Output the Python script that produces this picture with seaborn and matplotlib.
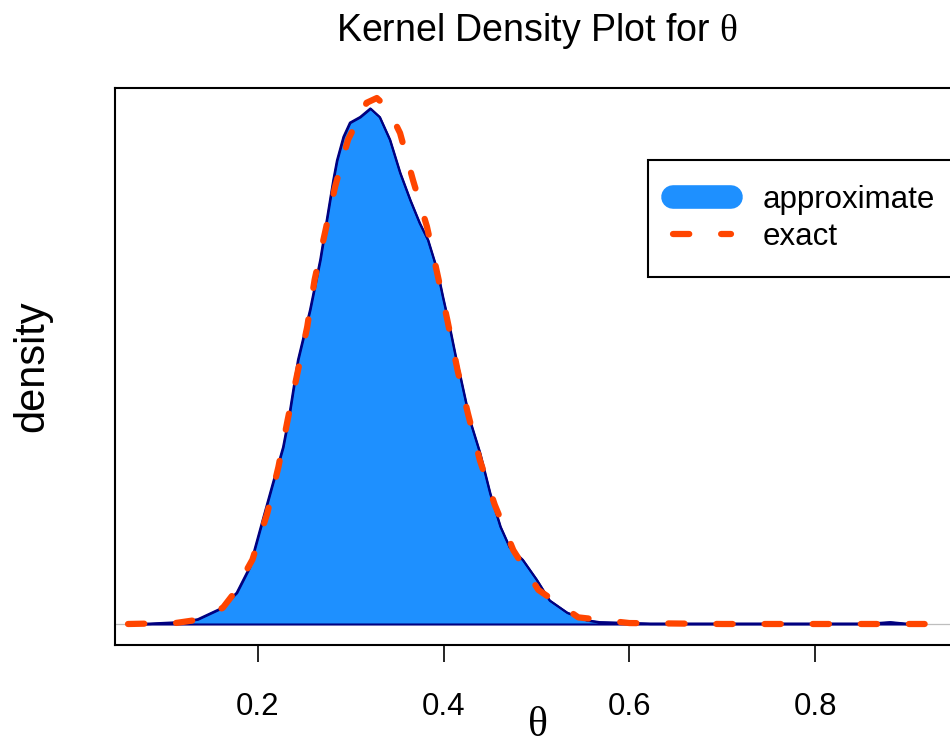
import matplotlib
matplotlib.use("Agg")
import matplotlib.pyplot as plt
from matplotlib.lines import Line2D
import seaborn as sns
import pandas as pd

# ---- data ----
theta_approx = [0.060, 0.084, 0.116, 0.135, 0.159, 0.177, 0.191, 0.205, 0.216, 0.227,
                0.234, 0.243, 0.256, 0.267, 0.274, 0.281, 0.285, 0.292, 0.299, 0.310,
                0.321, 0.331, 0.342, 0.353, 0.364, 0.374, 0.383, 0.393, 0.399, 0.407,
                0.413, 0.418, 0.428, 0.439, 0.450, 0.461, 0.471, 0.485, 0.500, 0.514,
                0.533, 0.554, 0.568, 0.622, 0.730, 0.859, 0.881, 0.897, 0.918]
dens_approx = [0.000, 0.005, 0.020, 0.050, 0.160, 0.330, 0.600, 1.100, 1.490, 1.870,
               2.230, 2.790, 3.320, 3.850, 4.270, 4.690, 4.900, 5.150, 5.300, 5.360,
               5.450, 5.360, 5.120, 4.770, 4.480, 4.240, 4.060, 3.740, 3.460, 3.110,
               2.820, 2.610, 2.160, 1.810, 1.380, 1.030, 0.810, 0.680, 0.470, 0.250,
               0.120, 0.040, 0.020, 0.005, 0.005, 0.005, 0.020, 0.005, 0.000]

theta_exact = [0.060, 0.111, 0.132, 0.162, 0.173, 0.194, 0.210, 0.222, 0.232, 0.242,
               0.253, 0.261, 0.272, 0.283, 0.297, 0.317, 0.328, 0.340, 0.353, 0.367,
               0.382, 0.393, 0.404, 0.415, 0.426, 0.439, 0.455, 0.475, 0.502, 0.545,
               0.600, 0.700, 0.800, 0.918]
dens_exact = [0.000, 0.010, 0.040, 0.170, 0.310, 0.680, 1.170, 1.660, 2.160, 2.630,
              3.140, 3.640, 4.130, 4.620, 5.120, 5.510, 5.560, 5.450, 5.190, 4.690,
              4.200, 3.710, 3.210, 2.680, 2.230, 1.730, 1.260, 0.780, 0.360, 0.070,
              0.010, 0.000, 0.000, 0.000]

x_ticks = [0.2, 0.4, 0.6, 0.8]
series_labels = ["approximate", "exact"]
title_text = r"Kernel Density Plot for $\theta$"
x_label = r"$\theta$"
y_label = "density"

approx_df = pd.DataFrame({"theta": theta_approx, "density": dens_approx})
exact_df = pd.DataFrame({"theta": theta_exact, "density": dens_exact})

# ---- style ----
sns.set_style("ticks")
plt.rcParams["font.family"] = ["Liberation Sans", "DejaVu Sans"]
plt.rcParams["mathtext.fontset"] = "custom"
plt.rcParams["mathtext.rm"] = "Liberation Serif"
plt.rcParams["mathtext.it"] = "Liberation Serif"
plt.rcParams["text.color"] = "black"
plt.rcParams["axes.labelcolor"] = "black"
plt.rcParams["xtick.color"] = "black"
plt.rcParams["xtick.labelcolor"] = "black"

FILL = "#1E90FF"
EDGE = "#000080"
EXACT = "#FF4500"

fig = plt.figure(figsize=(9.5, 7.4), dpi=100)
ax = fig.add_axes([115 / 950, 95 / 740, 844 / 950, 557 / 740])

ax.axhline(0, color="#BEBEBE", lw=0.9, zorder=1)
ax.fill_between(approx_df["theta"], approx_df["density"], 0,
                facecolor=FILL, edgecolor=EDGE, linewidth=1.5, zorder=2)
sns.lineplot(data=approx_df, x="theta", y="density", color=EDGE, lw=1.5,
             ax=ax, zorder=3, sort=False)
sns.lineplot(data=exact_df, x="theta", y="density", color=EXACT, lw=4.5,
             linestyle=(0, (2.6, 5.1)), dash_capstyle="round", ax=ax, zorder=4,
             sort=False)

ax.set_xlim(0.046, 0.955)
ax.set_ylim(-0.222, 5.666)
ax.set_xticks(x_ticks)
ax.set_xticklabels([f"{t:.1f}" for t in x_ticks], fontsize=22.5, color="black")
ax.set_yticks([])
ax.tick_params(axis="x", direction="out", length=12.5, width=1.2, pad=21, color="black")

for side in ["left", "top", "bottom"]:
    ax.spines[side].set_visible(True)
    ax.spines[side].set_linewidth(1.5)
    ax.spines[side].set_color("black")
ax.spines["right"].set_visible(False)

ax.set_xlabel(x_label, fontsize=30, color="black")
ax.xaxis.set_label_coords(0.5, -0.108)
ax.set_ylabel("")
fig.text(32 / 950, 1 - 366 / 740, y_label, rotation=90, ha="center", va="center",
         fontsize=30, color="black")
ax.set_title(title_text, fontsize=27, pad=34, color="black")

handles = [
    Line2D([], [], color=FILL, lw=17, solid_capstyle="round"),
    Line2D([], [], color=EXACT, lw=4.5, linestyle=(0, (2.6, 5.1)), dash_capstyle="round"),
]
leg = ax.legend(handles, series_labels, loc="upper left",
                bbox_to_anchor=(648 / 950, 1 - 160 / 740), bbox_transform=fig.transFigure,
                fontsize=22.5, frameon=True, fancybox=False, framealpha=1,
                edgecolor="black", borderpad=0.8, handlelength=1.86,
                handletextpad=1.0, labelspacing=0.22, borderaxespad=0)
leg.get_frame().set_linewidth(1.5)
for t in leg.get_texts():
    t.set_color("black")

fig.savefig("out.png", dpi=100)
